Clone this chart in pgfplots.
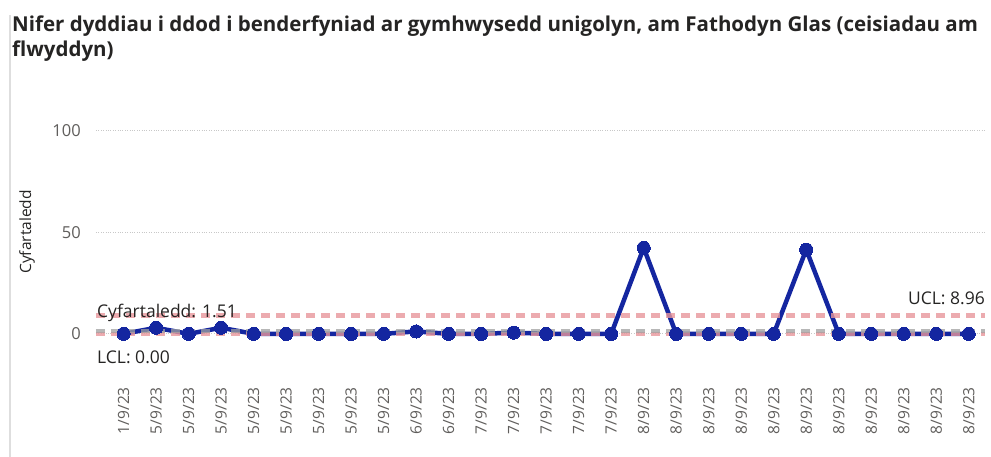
\documentclass[border=0pt]{standalone}
\usepackage{fontspec}
\setmainfont{Open Sans}
\usepackage{pgfplots}
\pgfplotsset{compat=1.18}
\definecolor{dblue}{RGB}{20,38,160}
\definecolor{lred}{RGB}{232,150,155}
\definecolor{lgrey}{RGB}{160,160,160}
\definecolor{tickg}{RGB}{96,94,92}
\definecolor{titc}{RGB}{37,36,35}
\begin{document}
\begin{tikzpicture}[x=1pt,y=1pt]
\useasboundingbox (-96,-113) rectangle (895,344);
\fill[white] (-96,-113) rectangle (895,344);
\draw[line width=1.5pt, color={rgb,255:red,222;green,222;blue,222}] (-86,-113) -- (-86,329);
\begin{axis}[
  scale only axis, width=889pt, height=223.3pt,
  xmin=-0.85, xmax=26.5, ymin=-5, ymax=105,
  axis line style={draw=none},
  major tick length=0pt,
  ytick={0,50,100},
  ymajorgrids, grid style={dotted, line width=0.8pt, color={rgb,255:red,200;green,200;blue,200}},
  xtick={0,...,26},
  xticklabels={1/9/23,5/9/23,5/9/23,5/9/23,5/9/23,5/9/23,5/9/23,5/9/23,5/9/23,6/9/23,6/9/23,7/9/23,7/9/23,7/9/23,7/9/23,7/9/23,8/9/23,8/9/23,8/9/23,8/9/23,8/9/23,8/9/23,8/9/23,8/9/23,8/9/23,8/9/23,8/9/23},
  xticklabel style={yshift=-43pt, rotate=90, anchor=east, inner sep=0pt, font=\fontsize{15.5}{17}\selectfont, text=tickg},
  yticklabel style={anchor=east, inner sep=0pt, xshift=-15pt, font=\fontsize{16.5}{18}\selectfont, text=tickg},
  /pgf/number format/assume math mode=true,
  clip=false,
]
\addplot[dblue, line width=4.5pt, line join=round, mark=*, mark size=6.6pt, mark options={solid, fill=dblue, draw=dblue, line width=0pt}] coordinates {
(0,0) (1,3) (2,0) (3,3) (4,0) (5,0) (6,0) (7,0) (8,0) (9,1.2) (10,0) (11,0) (12,0.6) (13,0) (14,0) (15,0) (16,42.4) (17,0) (18,0) (19,0) (20,0) (21,41.5) (22,0) (23,0) (24,0) (25,0) (26,0)};
\addplot[lred, line width=4.5pt, dash pattern=on 9pt off 6pt, opacity=0.8] coordinates {(-0.85,8.96) (26.5,8.96)};
\addplot[lred, line width=4.5pt, dash pattern=on 9pt off 6pt, opacity=0.8] coordinates {(-0.85,0) (26.5,0)};
\addplot[lgrey, line width=4.5pt, dash pattern=on 9pt off 6pt, opacity=0.75] coordinates {(-0.85,1.51) (26.5,1.51)};
\end{axis}
\node[anchor=base west, inner sep=0pt, font=\fontsize{20.5}{23}\selectfont\bfseries, text=titc] at (-84,312) {Nifer dyddiau i ddod i benderfyniad ar gymhwysedd unigolyn, am Fathodyn Glas (ceisiadau am};
\node[anchor=base west, inner sep=0pt, font=\fontsize{20.5}{23}\selectfont\bfseries, text=titc] at (-84,287) {flwyddyn)};
\node[rotate=90, inner sep=0pt, font=\fontsize{15.5}{17}\selectfont, text=titc] at (-69,112) {Cyfartaledd};
\node[anchor=west, inner sep=0pt, font=\fontsize{17.5}{19}\selectfont, text=titc] at (1,31) {Cyfartaledd: 1.51};
\node[anchor=west, inner sep=0pt, font=\fontsize{17.5}{19}\selectfont, text=titc] at (1,-13) {LCL: 0.00};
\node[anchor=east, inner sep=0pt, font=\fontsize{17.5}{19}\selectfont, text=titc] at (889,46) {UCL: 8.96};
\end{tikzpicture}
\end{document}
